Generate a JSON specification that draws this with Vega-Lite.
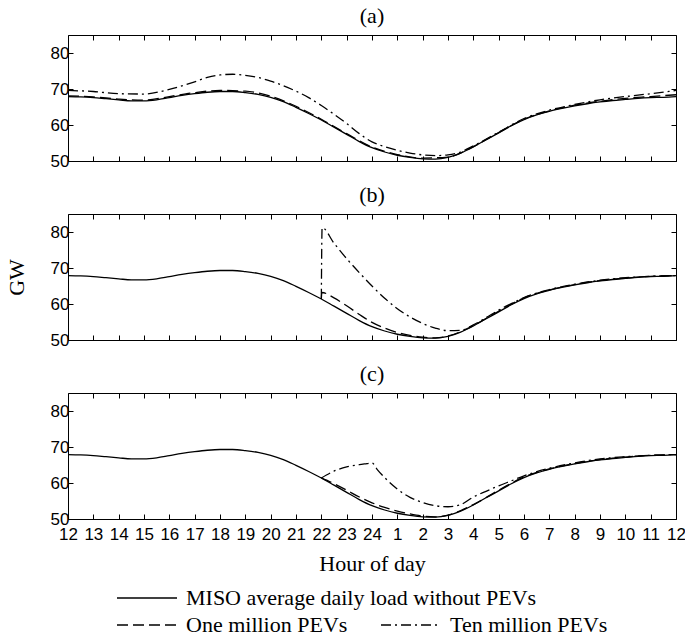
{
  "$schema": "https://vega.github.io/schema/vega-lite/v6.json",
  "background": "white",
  "padding": {"left": 4, "top": 4, "right": 5, "bottom": 2},
  "spacing": 13,
  "config": {
    "view": {"stroke": "black", "strokeWidth": 1},
    "axis": {"labelFont": "Liberation Sans", "labelFontSize": 17, "labelColor": "black", "tickColor": "black", "tickWidth": 1, "domain": false, "grid": false, "titleFont": "Liberation Serif", "titleFontSize": 22, "titleFontWeight": "normal", "titleColor": "black", "tickSize": -5},
    "axisX": {"labelPadding": 12},
    "axisY": {"labelPadding": 4},
    "title": {"font": "Liberation Serif", "fontSize": 22, "fontWeight": "normal", "color": "black", "offset": 7},
    "line": {"color": "black", "strokeWidth": 1.3},
    "legend": {"title": null, "orient": "none", "columnPadding": 30, "symbolType": "stroke", "symbolSize": 3600, "symbolStrokeWidth": 1.5, "symbolStrokeColor": "black", "labelFont": "Liberation Serif", "labelFontSize": 22, "labelColor": "black", "labelLimit": 600, "labelOffset": 8}
  },
  "datasets": {
    "base": [
      {"h": 0, "gw": 67.9}, {"h": 0.5, "gw": 67.8}, {"h": 1, "gw": 67.6}, {"h": 1.5, "gw": 67.3}, {"h": 2, "gw": 67.0}, {"h": 2.5, "gw": 66.7}, {"h": 3, "gw": 66.7}, {"h": 3.5, "gw": 67.0}, {"h": 4, "gw": 67.6}, {"h": 4.5, "gw": 68.2}, {"h": 5, "gw": 68.7}, {"h": 5.5, "gw": 69.1}, {"h": 6, "gw": 69.3}, {"h": 6.5, "gw": 69.3}, {"h": 7, "gw": 69.0}, {"h": 7.5, "gw": 68.5}, {"h": 8, "gw": 67.7}, {"h": 8.5, "gw": 66.5}, {"h": 9, "gw": 64.9}, {"h": 9.5, "gw": 63.2}, {"h": 10, "gw": 61.4}, {"h": 10.5, "gw": 59.4}, {"h": 11, "gw": 57.4}, {"h": 11.5, "gw": 55.4}, {"h": 12, "gw": 53.7}, {"h": 12.5, "gw": 52.5}, {"h": 13, "gw": 51.6}, {"h": 13.5, "gw": 51.0}, {"h": 14, "gw": 50.6}, {"h": 14.5, "gw": 50.5}, {"h": 15, "gw": 51.0}, {"h": 15.5, "gw": 52.2}, {"h": 16, "gw": 53.9}, {"h": 16.5, "gw": 55.9}, {"h": 17, "gw": 57.8}, {"h": 17.5, "gw": 59.8}, {"h": 18, "gw": 61.5}, {"h": 18.5, "gw": 62.8}, {"h": 19, "gw": 63.8}, {"h": 19.5, "gw": 64.6}, {"h": 20, "gw": 65.3}, {"h": 20.5, "gw": 65.9}, {"h": 21, "gw": 66.4}, {"h": 21.5, "gw": 66.8}, {"h": 22, "gw": 67.1}, {"h": 22.5, "gw": 67.4}, {"h": 23, "gw": 67.6}, {"h": 23.5, "gw": 67.7}, {"h": 24, "gw": 67.9}
    ],
    "pev": [
      {"panel": "a", "series": "One million PEVs", "h": 0, "gw": 68.1}, {"panel": "a", "series": "One million PEVs", "h": 1, "gw": 67.8}, {"panel": "a", "series": "One million PEVs", "h": 2, "gw": 67.2}, {"panel": "a", "series": "One million PEVs", "h": 3, "gw": 66.9}, {"panel": "a", "series": "One million PEVs", "h": 4, "gw": 67.9}, {"panel": "a", "series": "One million PEVs", "h": 5, "gw": 69.0}, {"panel": "a", "series": "One million PEVs", "h": 6, "gw": 69.6}, {"panel": "a", "series": "One million PEVs", "h": 7, "gw": 69.4}, {"panel": "a", "series": "One million PEVs", "h": 8, "gw": 68.0}, {"panel": "a", "series": "One million PEVs", "h": 9, "gw": 65.2}, {"panel": "a", "series": "One million PEVs", "h": 10, "gw": 61.6}, {"panel": "a", "series": "One million PEVs", "h": 11, "gw": 57.6}, {"panel": "a", "series": "One million PEVs", "h": 12, "gw": 53.9}, {"panel": "a", "series": "One million PEVs", "h": 13, "gw": 51.8}, {"panel": "a", "series": "One million PEVs", "h": 14, "gw": 50.8}, {"panel": "a", "series": "One million PEVs", "h": 15, "gw": 51.1}, {"panel": "a", "series": "One million PEVs", "h": 16, "gw": 54.0}, {"panel": "a", "series": "One million PEVs", "h": 17, "gw": 57.9}, {"panel": "a", "series": "One million PEVs", "h": 18, "gw": 61.6}, {"panel": "a", "series": "One million PEVs", "h": 19, "gw": 63.9}, {"panel": "a", "series": "One million PEVs", "h": 20, "gw": 65.5}, {"panel": "a", "series": "One million PEVs", "h": 21, "gw": 66.6}, {"panel": "a", "series": "One million PEVs", "h": 22, "gw": 67.4}, {"panel": "a", "series": "One million PEVs", "h": 23, "gw": 67.9}, {"panel": "a", "series": "One million PEVs", "h": 24, "gw": 68.4},
      {"panel": "a", "series": "Ten million PEVs", "h": 0, "gw": 69.6}, {"panel": "a", "series": "Ten million PEVs", "h": 1, "gw": 69.3}, {"panel": "a", "series": "Ten million PEVs", "h": 2, "gw": 68.7}, {"panel": "a", "series": "Ten million PEVs", "h": 3, "gw": 68.6}, {"panel": "a", "series": "Ten million PEVs", "h": 4, "gw": 69.9}, {"panel": "a", "series": "Ten million PEVs", "h": 5, "gw": 72.0}, {"panel": "a", "series": "Ten million PEVs", "h": 5.5, "gw": 73.2}, {"panel": "a", "series": "Ten million PEVs", "h": 6, "gw": 73.9}, {"panel": "a", "series": "Ten million PEVs", "h": 6.5, "gw": 74.1}, {"panel": "a", "series": "Ten million PEVs", "h": 7, "gw": 73.8}, {"panel": "a", "series": "Ten million PEVs", "h": 7.5, "gw": 73.2}, {"panel": "a", "series": "Ten million PEVs", "h": 8, "gw": 72.2}, {"panel": "a", "series": "Ten million PEVs", "h": 8.5, "gw": 70.9}, {"panel": "a", "series": "Ten million PEVs", "h": 9, "gw": 69.4}, {"panel": "a", "series": "Ten million PEVs", "h": 9.5, "gw": 67.6}, {"panel": "a", "series": "Ten million PEVs", "h": 10, "gw": 65.4}, {"panel": "a", "series": "Ten million PEVs", "h": 10.5, "gw": 63.0}, {"panel": "a", "series": "Ten million PEVs", "h": 11, "gw": 60.4}, {"panel": "a", "series": "Ten million PEVs", "h": 11.5, "gw": 57.6}, {"panel": "a", "series": "Ten million PEVs", "h": 12, "gw": 55.3}, {"panel": "a", "series": "Ten million PEVs", "h": 12.5, "gw": 54.0}, {"panel": "a", "series": "Ten million PEVs", "h": 13, "gw": 53.0}, {"panel": "a", "series": "Ten million PEVs", "h": 13.5, "gw": 52.2}, {"panel": "a", "series": "Ten million PEVs", "h": 14, "gw": 51.7}, {"panel": "a", "series": "Ten million PEVs", "h": 14.5, "gw": 51.5}, {"panel": "a", "series": "Ten million PEVs", "h": 15, "gw": 51.7}, {"panel": "a", "series": "Ten million PEVs", "h": 15.5, "gw": 52.5}, {"panel": "a", "series": "Ten million PEVs", "h": 16, "gw": 54.2}, {"panel": "a", "series": "Ten million PEVs", "h": 17, "gw": 58.0}, {"panel": "a", "series": "Ten million PEVs", "h": 18, "gw": 61.8}, {"panel": "a", "series": "Ten million PEVs", "h": 19, "gw": 64.1}, {"panel": "a", "series": "Ten million PEVs", "h": 20, "gw": 65.7}, {"panel": "a", "series": "Ten million PEVs", "h": 21, "gw": 67.0}, {"panel": "a", "series": "Ten million PEVs", "h": 22, "gw": 67.9}, {"panel": "a", "series": "Ten million PEVs", "h": 23, "gw": 68.7}, {"panel": "a", "series": "Ten million PEVs", "h": 24, "gw": 69.6},
      {"panel": "b", "series": "One million PEVs", "h": 10, "gw": 61.4}, {"panel": "b", "series": "One million PEVs", "h": 10.02, "gw": 63.2}, {"panel": "b", "series": "One million PEVs", "h": 10.5, "gw": 61.7}, {"panel": "b", "series": "One million PEVs", "h": 11, "gw": 59.5}, {"panel": "b", "series": "One million PEVs", "h": 11.5, "gw": 57.1}, {"panel": "b", "series": "One million PEVs", "h": 12, "gw": 54.9}, {"panel": "b", "series": "One million PEVs", "h": 12.5, "gw": 53.3}, {"panel": "b", "series": "One million PEVs", "h": 13, "gw": 52.1}, {"panel": "b", "series": "One million PEVs", "h": 13.5, "gw": 51.3}, {"panel": "b", "series": "One million PEVs", "h": 14, "gw": 50.8}, {"panel": "b", "series": "One million PEVs", "h": 14.5, "gw": 50.6}, {"panel": "b", "series": "One million PEVs", "h": 15, "gw": 51.1}, {"panel": "b", "series": "One million PEVs", "h": 16, "gw": 54.0}, {"panel": "b", "series": "One million PEVs", "h": 17, "gw": 58.0}, {"panel": "b", "series": "One million PEVs", "h": 18, "gw": 61.7}, {"panel": "b", "series": "One million PEVs", "h": 19, "gw": 63.9}, {"panel": "b", "series": "One million PEVs", "h": 20, "gw": 65.4}, {"panel": "b", "series": "One million PEVs", "h": 21, "gw": 66.5}, {"panel": "b", "series": "One million PEVs", "h": 22, "gw": 67.2}, {"panel": "b", "series": "One million PEVs", "h": 23, "gw": 67.7}, {"panel": "b", "series": "One million PEVs", "h": 24, "gw": 67.9},
      {"panel": "b", "series": "Ten million PEVs", "h": 10, "gw": 61.4}, {"panel": "b", "series": "Ten million PEVs", "h": 10.03, "gw": 81.2}, {"panel": "b", "series": "Ten million PEVs", "h": 10.5, "gw": 76.9}, {"panel": "b", "series": "Ten million PEVs", "h": 11, "gw": 72.6}, {"panel": "b", "series": "Ten million PEVs", "h": 11.5, "gw": 68.7}, {"panel": "b", "series": "Ten million PEVs", "h": 12, "gw": 65.0}, {"panel": "b", "series": "Ten million PEVs", "h": 12.5, "gw": 61.6}, {"panel": "b", "series": "Ten million PEVs", "h": 13, "gw": 58.7}, {"panel": "b", "series": "Ten million PEVs", "h": 13.5, "gw": 56.4}, {"panel": "b", "series": "Ten million PEVs", "h": 14, "gw": 54.6}, {"panel": "b", "series": "Ten million PEVs", "h": 14.5, "gw": 53.3}, {"panel": "b", "series": "Ten million PEVs", "h": 15, "gw": 52.6}, {"panel": "b", "series": "Ten million PEVs", "h": 15.5, "gw": 52.7}, {"panel": "b", "series": "Ten million PEVs", "h": 16, "gw": 54.2}, {"panel": "b", "series": "Ten million PEVs", "h": 16.5, "gw": 56.2}, {"panel": "b", "series": "Ten million PEVs", "h": 17, "gw": 58.3}, {"panel": "b", "series": "Ten million PEVs", "h": 17.5, "gw": 60.1}, {"panel": "b", "series": "Ten million PEVs", "h": 18, "gw": 61.8}, {"panel": "b", "series": "Ten million PEVs", "h": 19, "gw": 64.0}, {"panel": "b", "series": "Ten million PEVs", "h": 20, "gw": 65.5}, {"panel": "b", "series": "Ten million PEVs", "h": 21, "gw": 66.6}, {"panel": "b", "series": "Ten million PEVs", "h": 22, "gw": 67.3}, {"panel": "b", "series": "Ten million PEVs", "h": 23, "gw": 67.7}, {"panel": "b", "series": "Ten million PEVs", "h": 24, "gw": 67.9},
      {"panel": "c", "series": "One million PEVs", "h": 10, "gw": 61.4}, {"panel": "c", "series": "One million PEVs", "h": 10.5, "gw": 59.8}, {"panel": "c", "series": "One million PEVs", "h": 11, "gw": 58.0}, {"panel": "c", "series": "One million PEVs", "h": 11.5, "gw": 56.1}, {"panel": "c", "series": "One million PEVs", "h": 12, "gw": 54.5}, {"panel": "c", "series": "One million PEVs", "h": 12.5, "gw": 53.2}, {"panel": "c", "series": "One million PEVs", "h": 13, "gw": 52.2}, {"panel": "c", "series": "One million PEVs", "h": 13.5, "gw": 51.4}, {"panel": "c", "series": "One million PEVs", "h": 14, "gw": 50.8}, {"panel": "c", "series": "One million PEVs", "h": 14.5, "gw": 50.6}, {"panel": "c", "series": "One million PEVs", "h": 15, "gw": 51.1}, {"panel": "c", "series": "One million PEVs", "h": 16, "gw": 54.0}, {"panel": "c", "series": "One million PEVs", "h": 17, "gw": 58.0}, {"panel": "c", "series": "One million PEVs", "h": 18, "gw": 61.7}, {"panel": "c", "series": "One million PEVs", "h": 19, "gw": 63.9}, {"panel": "c", "series": "One million PEVs", "h": 20, "gw": 65.4}, {"panel": "c", "series": "One million PEVs", "h": 21, "gw": 66.5}, {"panel": "c", "series": "One million PEVs", "h": 22, "gw": 67.2}, {"panel": "c", "series": "One million PEVs", "h": 23, "gw": 67.7}, {"panel": "c", "series": "One million PEVs", "h": 24, "gw": 67.9},
      {"panel": "c", "series": "Ten million PEVs", "h": 10, "gw": 61.4}, {"panel": "c", "series": "Ten million PEVs", "h": 10.5, "gw": 63.3}, {"panel": "c", "series": "Ten million PEVs", "h": 11, "gw": 64.5}, {"panel": "c", "series": "Ten million PEVs", "h": 11.5, "gw": 65.1}, {"panel": "c", "series": "Ten million PEVs", "h": 11.8, "gw": 65.4}, {"panel": "c", "series": "Ten million PEVs", "h": 12, "gw": 65.6}, {"panel": "c", "series": "Ten million PEVs", "h": 12.2, "gw": 63.8}, {"panel": "c", "series": "Ten million PEVs", "h": 12.5, "gw": 61.5}, {"panel": "c", "series": "Ten million PEVs", "h": 13, "gw": 58.3}, {"panel": "c", "series": "Ten million PEVs", "h": 13.5, "gw": 56.0}, {"panel": "c", "series": "Ten million PEVs", "h": 14, "gw": 54.6}, {"panel": "c", "series": "Ten million PEVs", "h": 14.5, "gw": 53.7}, {"panel": "c", "series": "Ten million PEVs", "h": 15, "gw": 53.4}, {"panel": "c", "series": "Ten million PEVs", "h": 15.5, "gw": 54.0}, {"panel": "c", "series": "Ten million PEVs", "h": 16, "gw": 56.1}, {"panel": "c", "series": "Ten million PEVs", "h": 16.5, "gw": 57.7}, {"panel": "c", "series": "Ten million PEVs", "h": 17, "gw": 59.2}, {"panel": "c", "series": "Ten million PEVs", "h": 17.5, "gw": 60.6}, {"panel": "c", "series": "Ten million PEVs", "h": 18, "gw": 62.0}, {"panel": "c", "series": "Ten million PEVs", "h": 19, "gw": 64.1}, {"panel": "c", "series": "Ten million PEVs", "h": 20, "gw": 65.6}, {"panel": "c", "series": "Ten million PEVs", "h": 21, "gw": 66.7}, {"panel": "c", "series": "Ten million PEVs", "h": 22, "gw": 67.3}, {"panel": "c", "series": "Ten million PEVs", "h": 23, "gw": 67.7}, {"panel": "c", "series": "Ten million PEVs", "h": 24, "gw": 67.9}
    ]
  },
  "vconcat": [
    {
      "title": "(a)",
      "width": 608, "height": 126,
      "layer": [
        {
          "data": {"name": "base"},
          "mark": {"type": "line", "interpolate": "monotone"},
          "encoding": {
            "x": {"field": "h", "type": "quantitative", "scale": {"domain": [0, 24], "nice": false}, "axis": {"values": [0,1,2,3,4,5,6,7,8,9,10,11,12,13,14,15,16,17,18,19,20,21,22,23,24], "labels": false, "title": null}},
            "y": {"field": "gw", "type": "quantitative", "scale": {"domain": [50, 85], "nice": false, "zero": false}, "axis": {"values": [50, 60, 70, 80], "title": null}},
            "color": {"datum": "MISO average daily load without PEVs", "type": "nominal", "scale": {"range": ["black"]}, "legend": {"orient": "none", "legendX": 48, "legendY": 532}}
          }
        },
        {
          "data": {"name": "pev"},
          "transform": [{"filter": "datum.panel === 'a'"}],
          "mark": {"type": "line", "interpolate": "monotone"},
          "encoding": {
            "x": {"field": "h", "type": "quantitative", "axis": null},
            "y": {"field": "gw", "type": "quantitative", "axis": null},
            "strokeDash": {"field": "series", "type": "nominal", "scale": {"domain": ["One million PEVs", "Ten million PEVs"], "range": [[11, 5], [10, 4, 2, 4]]}, "legend": {"orient": "none", "legendX": 48, "legendY": 559, "direction": "horizontal"}}
          }
        },
        {
          "data": {"name": "base"},
          "mark": {"type": "line", "opacity": 0},
          "encoding": {
            "x": {"field": "h", "type": "quantitative", "axis": {"orient": "top", "values": [0,1,2,3,4,5,6,7,8,9,10,11,12,13,14,15,16,17,18,19,20,21,22,23,24], "labels": false, "title": null}},
            "y": {"field": "gw", "type": "quantitative", "axis": {"orient": "right", "values": [50, 60, 70, 80], "labels": false, "title": null}}
          }
        }
      ],
      "resolve": {"axis": {"x": "independent", "y": "independent"}}
    },
    {
      "title": "(b)",
      "width": 608, "height": 126,
      "layer": [
        {
          "data": {"name": "base"},
          "mark": {"type": "line", "interpolate": "monotone"},
          "encoding": {
            "x": {"field": "h", "type": "quantitative", "scale": {"domain": [0, 24], "nice": false}, "axis": {"values": [0,1,2,3,4,5,6,7,8,9,10,11,12,13,14,15,16,17,18,19,20,21,22,23,24], "labels": false, "title": null}},
            "y": {"field": "gw", "type": "quantitative", "scale": {"domain": [50, 85], "nice": false, "zero": false}, "axis": {"values": [50, 60, 70, 80], "title": "GW", "titlePadding": 22}},
            "color": {"datum": "MISO average daily load without PEVs", "type": "nominal", "scale": {"range": ["black"]}, "legend": {"orient": "none", "legendX": 48, "legendY": 532}}
          }
        },
        {
          "data": {"name": "pev"},
          "transform": [{"filter": "datum.panel === 'b'"}],
          "mark": {"type": "line", "interpolate": "monotone"},
          "encoding": {
            "x": {"field": "h", "type": "quantitative", "axis": null},
            "y": {"field": "gw", "type": "quantitative", "axis": null},
            "strokeDash": {"field": "series", "type": "nominal", "scale": {"domain": ["One million PEVs", "Ten million PEVs"], "range": [[11, 5], [10, 4, 2, 4]]}, "legend": {"orient": "none", "legendX": 48, "legendY": 559, "direction": "horizontal"}}
          }
        },
        {
          "data": {"name": "base"},
          "mark": {"type": "line", "opacity": 0},
          "encoding": {
            "x": {"field": "h", "type": "quantitative", "axis": {"orient": "top", "values": [0,1,2,3,4,5,6,7,8,9,10,11,12,13,14,15,16,17,18,19,20,21,22,23,24], "labels": false, "title": null}},
            "y": {"field": "gw", "type": "quantitative", "axis": {"orient": "right", "values": [50, 60, 70, 80], "labels": false, "title": null}}
          }
        }
      ],
      "resolve": {"axis": {"x": "independent", "y": "independent"}}
    },
    {
      "title": "(c)",
      "width": 608, "height": 126,
      "layer": [
        {
          "data": {"name": "base"},
          "mark": {"type": "line", "interpolate": "monotone"},
          "encoding": {
            "x": {"field": "h", "type": "quantitative", "scale": {"domain": [0, 24], "nice": false}, "axis": {"values": [0,1,2,3,4,5,6,7,8,9,10,11,12,13,14,15,16,17,18,19,20,21,22,23,24], "labelExpr": "datum.value <= 12 ? datum.value + 12 : datum.value - 12", "labelFlush": false, "labelOverlap": false, "title": "Hour of day", "titlePadding": 11}},
            "y": {"field": "gw", "type": "quantitative", "scale": {"domain": [50, 85], "nice": false, "zero": false}, "axis": {"values": [50, 60, 70, 80], "title": null}},
            "color": {"datum": "MISO average daily load without PEVs", "type": "nominal", "scale": {"range": ["black"]}, "legend": {"orient": "none", "legendX": 48, "legendY": 532}}
          }
        },
        {
          "data": {"name": "pev"},
          "transform": [{"filter": "datum.panel === 'c'"}],
          "mark": {"type": "line", "interpolate": "monotone"},
          "encoding": {
            "x": {"field": "h", "type": "quantitative", "axis": null},
            "y": {"field": "gw", "type": "quantitative", "axis": null},
            "strokeDash": {"field": "series", "type": "nominal", "scale": {"domain": ["One million PEVs", "Ten million PEVs"], "range": [[11, 5], [10, 4, 2, 4]]}, "legend": {"orient": "none", "legendX": 48, "legendY": 559, "direction": "horizontal"}}
          }
        },
        {
          "data": {"name": "base"},
          "mark": {"type": "line", "opacity": 0},
          "encoding": {
            "x": {"field": "h", "type": "quantitative", "axis": {"orient": "top", "values": [0,1,2,3,4,5,6,7,8,9,10,11,12,13,14,15,16,17,18,19,20,21,22,23,24], "labels": false, "title": null}},
            "y": {"field": "gw", "type": "quantitative", "axis": {"orient": "right", "values": [50, 60, 70, 80], "labels": false, "title": null}}
          }
        }
      ],
      "resolve": {"axis": {"x": "independent", "y": "independent"}}
    }
  ]
}
